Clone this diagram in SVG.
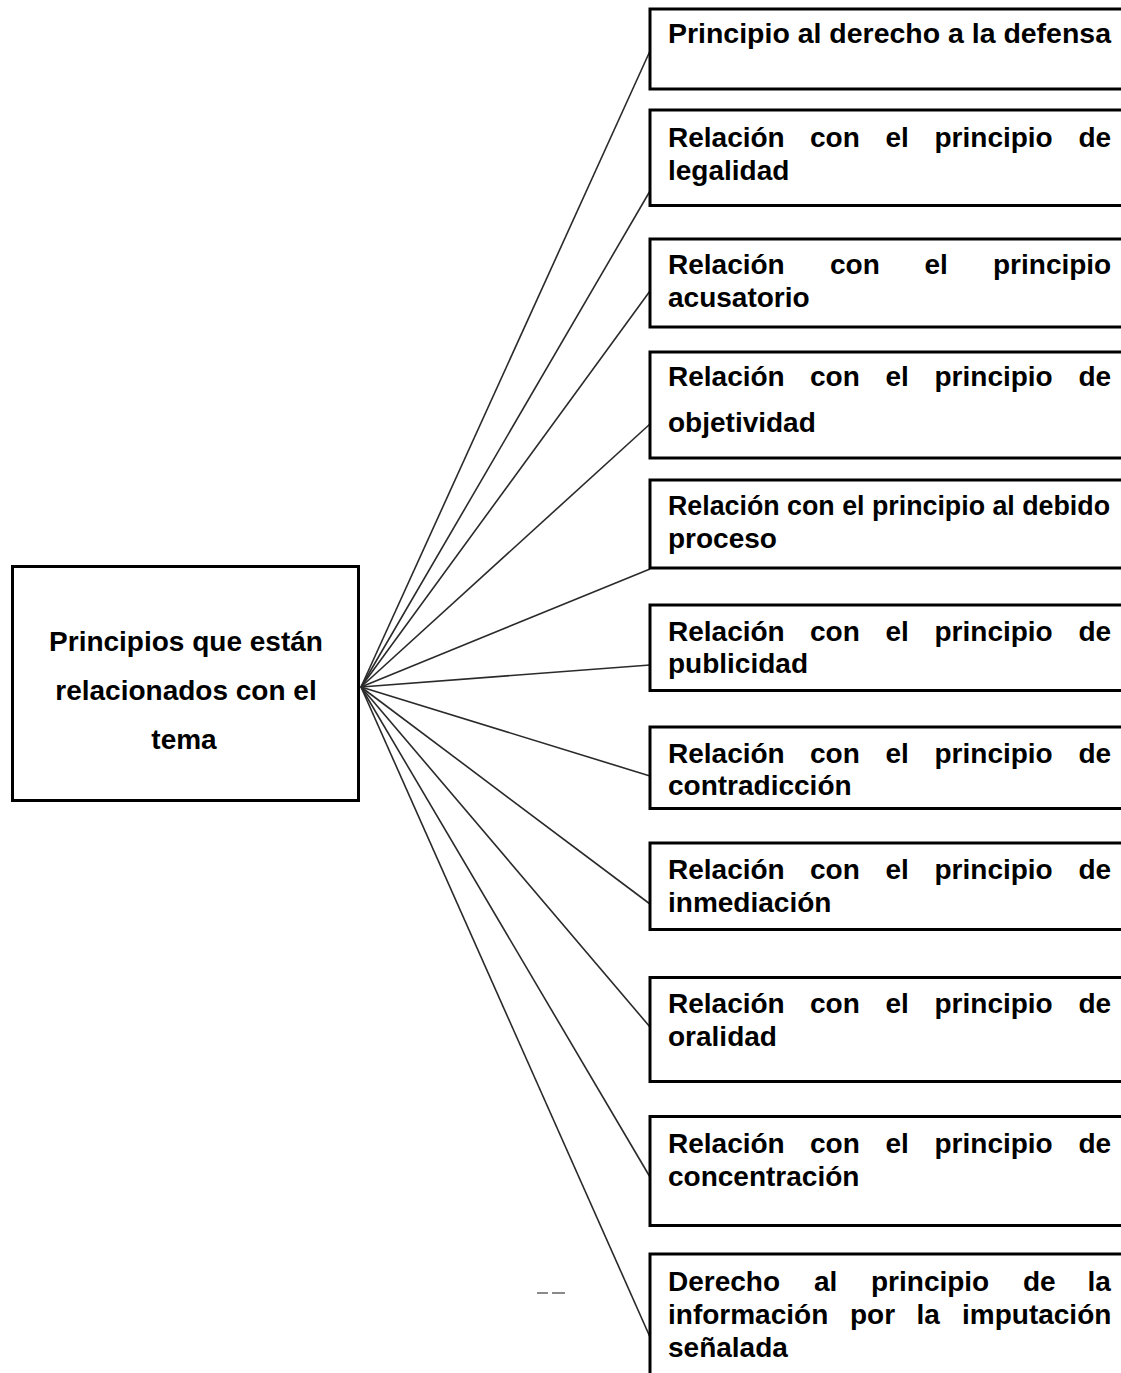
<svg xmlns="http://www.w3.org/2000/svg" width="1121" height="1373" viewBox="0 0 1121 1373">
<style>
.box{fill:#fff;stroke:#000;stroke-width:3}
.t{font-family:"Liberation Sans",Arial,sans-serif;font-weight:bold;font-size:28px;fill:#000}
.c{stroke:#2a2a2a;stroke-width:1.6;fill:none}
</style>
<rect x="0" y="0" width="1121" height="1373" fill="#fff"/>
<g id="connectors">
<line class="c" x1="361" y1="687" x2="650" y2="51"/>
<line class="c" x1="361" y1="687" x2="650" y2="191"/>
<line class="c" x1="361" y1="687" x2="650" y2="291"/>
<line class="c" x1="361" y1="687" x2="650" y2="424"/>
<line class="c" x1="361" y1="687" x2="650" y2="569"/>
<line class="c" x1="361" y1="687" x2="650" y2="665"/>
<line class="c" x1="361" y1="687" x2="650" y2="776"/>
<line class="c" x1="361" y1="687" x2="650" y2="904"/>
<line class="c" x1="361" y1="687" x2="650" y2="1027"/>
<line class="c" x1="361" y1="687" x2="650" y2="1177"/>
<line class="c" x1="361" y1="687" x2="650" y2="1337"/>
</g>
<g id="root">
<rect class="box" x="12.5" y="566.5" width="346" height="234"/>
<text class="t" x="186" y="651" text-anchor="middle">Principios que están</text>
<text class="t" x="186" y="700" text-anchor="middle">relacionados con el</text>
<text class="t" x="184" y="749" text-anchor="middle">tema</text>
</g>
<g id="n1">
<rect class="box" x="650" y="9" width="500" height="80"/>
<text class="t" x="668" y="43" textLength="443" lengthAdjust="spacingAndGlyphs">Principio al derecho a la defensa</text>
</g>
<g id="n2">
<rect class="box" x="650" y="110" width="500" height="95.5"/>
<text class="t" y="147"><tspan x="668">Relación</tspan><tspan x="810">con</tspan><tspan x="885.5">el</tspan><tspan x="934.5">principio</tspan><tspan x="1078.5">de</tspan></text>
<text class="t" x="668" y="180">legalidad</text>
</g>
<g id="n3">
<rect class="box" x="650" y="239" width="500" height="88"/>
<text class="t" y="274"><tspan x="668">Relación</tspan><tspan x="830">con</tspan><tspan x="924.5">el</tspan><tspan x="993">principio</tspan></text>
<text class="t" x="668" y="307">acusatorio</text>
</g>
<g id="n4">
<rect class="box" x="650" y="352" width="500" height="106"/>
<text class="t" y="386"><tspan x="668">Relación</tspan><tspan x="810">con</tspan><tspan x="885.5">el</tspan><tspan x="934.5">principio</tspan><tspan x="1078.5">de</tspan></text>
<text class="t" x="668" y="432">objetividad</text>
</g>
<g id="n5">
<rect class="box" x="650" y="480" width="500" height="88"/>
<text class="t" x="668" y="515" style="font-size:27px" textLength="442" lengthAdjust="spacingAndGlyphs">Relación con el principio al debido</text>
<text class="t" x="668" y="548">proceso</text>
</g>
<g id="n6">
<rect class="box" x="650" y="605" width="500" height="85.5"/>
<text class="t" y="641"><tspan x="668">Relación</tspan><tspan x="810">con</tspan><tspan x="885.5">el</tspan><tspan x="934.5">principio</tspan><tspan x="1078.5">de</tspan></text>
<text class="t" x="668" y="673">publicidad</text>
</g>
<g id="n7">
<rect class="box" x="650" y="727" width="500" height="81.5"/>
<text class="t" y="763"><tspan x="668">Relación</tspan><tspan x="810">con</tspan><tspan x="885.5">el</tspan><tspan x="934.5">principio</tspan><tspan x="1078.5">de</tspan></text>
<text class="t" x="668" y="795">contradicción</text>
</g>
<g id="n8">
<rect class="box" x="650" y="843" width="500" height="86.5"/>
<text class="t" y="879"><tspan x="668">Relación</tspan><tspan x="810">con</tspan><tspan x="885.5">el</tspan><tspan x="934.5">principio</tspan><tspan x="1078.5">de</tspan></text>
<text class="t" x="668" y="912">inmediación</text>
</g>
<g id="n9">
<rect class="box" x="650" y="977.5" width="500" height="104"/>
<text class="t" y="1013"><tspan x="668">Relación</tspan><tspan x="810">con</tspan><tspan x="885.5">el</tspan><tspan x="934.5">principio</tspan><tspan x="1078.5">de</tspan></text>
<text class="t" x="668" y="1046">oralidad</text>
</g>
<g id="n10">
<rect class="box" x="650" y="1116.5" width="500" height="109"/>
<text class="t" y="1153"><tspan x="668">Relación</tspan><tspan x="810">con</tspan><tspan x="885.5">el</tspan><tspan x="934.5">principio</tspan><tspan x="1078.5">de</tspan></text>
<text class="t" x="668" y="1186">concentración</text>
</g>
<g id="n11">
<rect class="box" x="650" y="1254" width="500" height="200"/>
<text class="t" y="1291"><tspan x="668">Derecho</tspan><tspan x="814">al</tspan><tspan x="871">principio</tspan><tspan x="1023">de</tspan><tspan x="1087.5">la</tspan></text>
<text class="t" y="1324"><tspan x="668">información</tspan><tspan x="850">por</tspan><tspan x="916.5">la</tspan><tspan x="962">imputación</tspan></text>
<text class="t" x="668" y="1357">señalada</text>
</g>
<g id="mark">
<line x1="537" y1="1293" x2="548" y2="1293" stroke="#8a8a8a" stroke-width="2"/>
<line x1="552" y1="1293" x2="565" y2="1293" stroke="#8a8a8a" stroke-width="2"/>
</g>
</svg>
